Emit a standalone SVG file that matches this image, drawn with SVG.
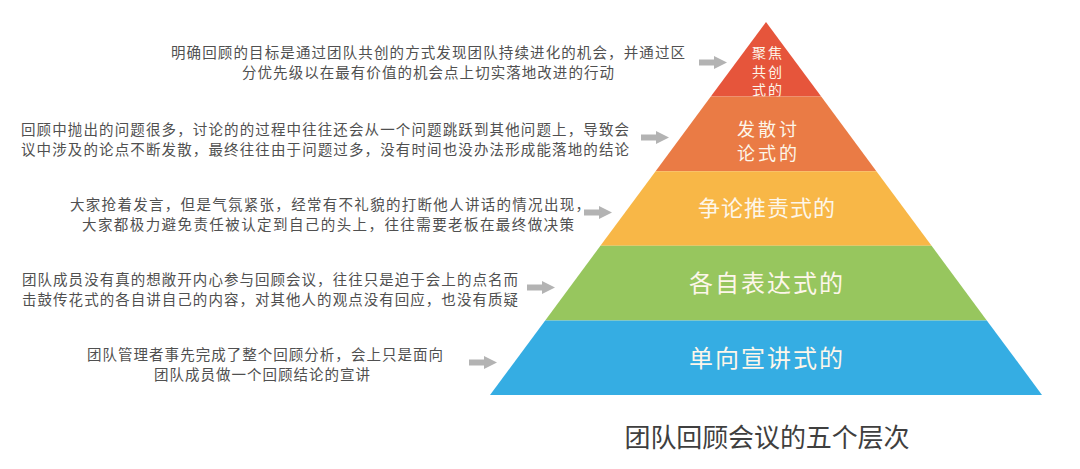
<svg xmlns="http://www.w3.org/2000/svg" width="1080" height="469" viewBox="0 0 1080 469">
<style>
.desc{font-family:"Noto Sans CJK SC","Noto Sans",sans-serif;font-size:14.5px;fill:#505050;text-anchor:middle}
.lvl{font-family:"Noto Sans CJK SC","Noto Sans",sans-serif;fill:#fdf6ea;text-anchor:middle}
.title{font-family:"Noto Sans CJK SC","Noto Sans",sans-serif;font-size:26px;fill:#3f3f3f;text-anchor:middle}
.arr{fill:#b3b3b3}
</style>
<defs>
<g id="arrow"><rect x="-28" y="-3" width="16" height="6"/><polygon points="-13,-6.5 0,0 -13,6.5"/></g>
</defs>
<rect width="1080" height="469" fill="#ffffff"/>
<g id="level1">
<polygon points="766,22 821.2,96.6 710.8,96.6" fill="#e6553b"/>
<text class="lvl" font-size="14" x="767" y="58" textLength="30">聚焦</text>
<text class="lvl" font-size="14" x="767" y="77" textLength="30">共创</text>
<text class="lvl" font-size="14" x="767" y="95" textLength="30">式的</text>
</g>
<g id="level2">
<polygon points="710.8,96.6 821.2,96.6 876.4,171.2 655.6,171.2" fill="#ea7b45"/>
<text class="lvl" font-size="18" x="767" y="135.5" textLength="60">发散讨</text>
<text class="lvl" font-size="18" x="767" y="159.5" textLength="60">论式的</text>
</g>
<g id="level3">
<polygon points="655.6,171.2 876.4,171.2 931.6,245.8 600.4,245.8" fill="#f8b747"/>
<text class="lvl" font-size="22" x="766.5" y="216" textLength="137">争论推责式的</text>
</g>
<g id="level4">
<polygon points="600.4,245.8 931.6,245.8 986.8,320.4 545.2,320.4" fill="#97c65e"/>
<text class="lvl" font-size="24" x="766" y="291.5" textLength="154">各自表达式的</text>
</g>
<g id="level5">
<polygon points="545.2,320.4 986.8,320.4 1042,395 490,395" fill="#35ade3"/>
<text class="lvl" font-size="24" x="766" y="366.5" textLength="154">单向宣讲式的</text>
</g>
<g id="desc1">
<text class="desc" x="428" y="58" textLength="514">明确回顾的目标是通过团队共创的方式发现团队持续进化的机会，并通过区</text>
<text class="desc" x="428" y="78" textLength="372">分优先级以在最有价值的机会点上切实落地改进的行动</text>
</g>
<g id="desc2">
<text class="desc" x="325" y="135" textLength="608">回顾中抛出的问题很多，讨论的的过程中往往还会从一个问题跳跃到其他问题上，导致会</text>
<text class="desc" x="325" y="155" textLength="608">议中涉及的论点不断发散，最终往往由于问题过多，没有时间也没办法形成能落地的结论</text>
</g>
<g id="desc3">
<text class="desc" x="330" y="210" textLength="520">大家抢着发言，但是气氛紧张，经常有不礼貌的打断他人讲话的情况出现，</text>
<text class="desc" x="328" y="230" textLength="492">大家都极力避免责任被认定到自己的头上，往往需要老板在最终做决策</text>
</g>
<g id="desc4">
<text class="desc" x="270" y="285" textLength="496">团队成员没有真的想敞开内心参与回顾会议，往往只是迫于会上的点名而</text>
<text class="desc" x="270" y="305" textLength="496">击鼓传花式的各自讲自己的内容，对其他人的观点没有回应，也没有质疑</text>
</g>
<g id="desc5">
<text class="desc" x="265" y="360" textLength="356">团队管理者事先完成了整个回顾分析，会上只是面向</text>
<text class="desc" x="262" y="380" textLength="216">团队成员做一个回顾结论的宣讲</text>
</g>
<g id="connectors" class="arr">
<use href="#arrow" x="727" y="62.5"/>
<use href="#arrow" x="669" y="137.5"/>
<use href="#arrow" x="612" y="212.5"/>
<use href="#arrow" x="555" y="287.5"/>
<use href="#arrow" x="497" y="362.5"/>
</g>
<g id="title">
<text class="title" x="767" y="447" textLength="285">团队回顾会议的五个层次</text>
</g>
</svg>
